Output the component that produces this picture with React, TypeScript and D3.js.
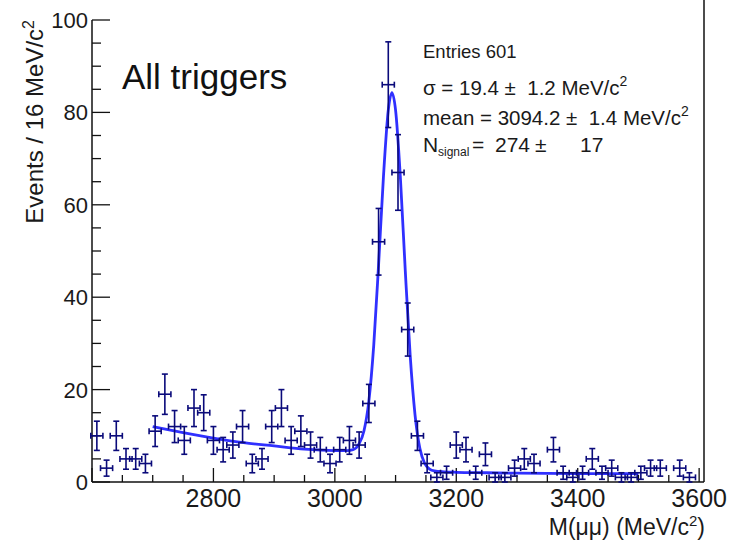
import React from 'react';
import * as d3 from 'd3';

// Histogram binning (MeV/c^2)
const binLow = 2600;
const binWidth = 16;
// Events per 16 MeV/c^2 bin (63 bins, 2600..3608)
const counts = [
  10, 3, 10, 5, 5, 4, 11, 19, 12, 9,
  16, 15, 9, 7, 8, 12, 4, 5, 12, 16,
  9, 11, 8, 7, 4, 7, 9, 8, 17, 52,
  86, 67, 33, 10, 4, 1, 2, 8, 7, 2,
  6, 1, 1, 3, 5, 4, 0, 7, 2, 1,
  2, 5, 2, 3, 1, 1, 2, 3, 3, 0,
  3, 1, 0,
];

// Fit curve (Gaussian signal + background)
const fitMass = [2700, 2750, 2800, 2850, 2900, 2950, 3000, 3020, 3030, 3040, 3048, 3056, 3064, 3072, 3080, 3088, 3094, 3100, 3108, 3116, 3124, 3132, 3140, 3148, 3156, 3164, 3180, 3200, 3250, 3300, 3400, 3500];
const fitValue = [12.0, 10.7, 9.5, 8.5, 7.8, 7.1, 6.8, 6.8, 7.0, 8.3, 11.1, 17.5, 29.5, 47, 66, 80.5, 84.3, 80.5, 65.7, 45.7, 27.5, 14.6, 7.3, 4.0, 2.8, 2.4, 2.2, 2.1, 2.0, 1.9, 1.8, 1.8];

const xTickLabels = [2800, 3000, 3200, 3400, 3600];
const yTickLabels = [0, 20, 40, 60, 80, 100];

const FONT = "'Liberation Sans', Arial, Helvetica, sans-serif";
const TEXT = '#1a1a1a';
const PT = '#0a0a7a';
const FIT = '#0c0cff';

export default function App() {
  const W = 729, H = 542;
  const left = 92, right = 704, top = 20, bottom = 482;
  const x = d3.scaleLinear().domain([binLow, binLow + binWidth * counts.length]).range([left, right]);
  const y = d3.scaleLinear().domain([0, 100]).range([bottom, top]);

  const line = d3.line<[number, number]>()
    .x(d => x(d[0]))
    .y(d => y(d[1]))
    .curve(d3.curveMonotoneX);
  const fitPts: [number, number][] = fitMass.map((m, i) => [m, fitValue[i]]);

  const xTicks = d3.range(2600, 3601, 50);
  const yTicks = d3.range(0, 101, 5);
  const pre = { whiteSpace: 'pre' as const };

  return (
    <svg width={W} height={H} style={{ position: 'absolute', left: 0, top: 0, background: '#fff' }}
      fontFamily={FONT}>
      {/* frame / axes */}
      <line x1={left} y1={top} x2={left} y2={bottom} stroke="#111" strokeWidth={1.5} />
      <line x1={left} y1={bottom} x2={right} y2={bottom} stroke="#111" strokeWidth={1.5} />
      <line x1={right} y1={0} x2={right} y2={bottom} stroke="#111" strokeWidth={1.5} />

      {/* y ticks */}
      {yTicks.map(v => (
        <line key={'yt' + v} x1={left} x2={left + (v % 20 === 0 ? 18 : 9)} y1={y(v)} y2={y(v)} stroke="#111" strokeWidth={1.3} />
      ))}
      {yTickLabels.map(v => (
        <text key={'yl' + v} x={88} y={y(v) + 8} textAnchor="end" fontSize={22} fill={TEXT}>{v}</text>
      ))}

      {/* x ticks */}
      {xTicks.map(v => (
        <line key={'xt' + v} x1={x(v)} x2={x(v)} y1={bottom} y2={bottom - (v % 200 === 0 ? 14 : 7)} stroke="#111" strokeWidth={1.3} />
      ))}
      {xTickLabels.map(v => (
        <text key={'xl' + v} x={x(v)} y={507} textAnchor="middle" fontSize={25} fill={TEXT}>{v}</text>
      ))}

      {/* axis titles */}
      <text x={705} y={535} textAnchor="end" fontSize={23} fill={TEXT}>
        M(μμ) (MeV/c<tspan dy={-9} fontSize={15}>2</tspan><tspan dy={9}>)</tspan>
      </text>
      <text transform="translate(43,20) rotate(-90)" textAnchor="end" fontSize={24} fill={TEXT}>
        Events / 16 MeV/c<tspan dy={-9} fontSize={16}>2</tspan>
      </text>

      {/* label */}
      <text x={122} y={89} fontSize={35} fill="#111">All triggers</text>

      {/* stats */}
      <g fill={TEXT}>
        <text x={423} y={58} fontSize={18.5}>Entries 601</text>
        <text x={423} y={95} fontSize={20.5} style={pre}>
          {'σ = 19.4 ±  1.2 MeV/c'}<tspan dy={-9} fontSize={14}>2</tspan>
        </text>
        <text x={423} y={125} fontSize={20.5} style={pre}>
          {'mean = 3094.2 ±  1.4 MeV/c'}<tspan dy={-9} fontSize={14}>2</tspan>
        </text>
        <text y={152} fontSize={21}>
          <tspan x={423}>N</tspan><tspan x={438} dy={4} fontSize={12}>signal</tspan>
          <tspan x={472} dy={-4}>=</tspan><tspan x={495}>274</tspan>
          <tspan x={535}>±</tspan><tspan x={580}>17</tspan>
        </text>
      </g>

      {/* fit curve */}
      <path d={line(fitPts) || ''} fill="none" stroke={FIT} strokeWidth={2.8} strokeOpacity={0.85} strokeLinejoin="round" />

      {/* data points with error bars */}
      <g stroke={PT} strokeWidth={1.6} fill="none">
        {counts.map((c, i) => {
          if (c <= 0) return null;
          const m = binLow + binWidth * (i + 0.5);
          const cx = x(m);
          const cy = y(c);
          const e = Math.sqrt(c);
          const yt = y(c + e), yb = y(c - e);
          const xl = x(m - binWidth / 2) - 1.2, xr = x(m + binWidth / 2) + 1.2;
          return (
            <g key={i}>
              <line x1={cx} x2={cx} y1={yt} y2={yb} />
              <line x1={cx - 3} x2={cx + 3} y1={yt} y2={yt} />
              <line x1={cx - 3} x2={cx + 3} y1={yb} y2={yb} />
              <line x1={xl} x2={xr} y1={cy} y2={cy} />
              <line x1={xl} x2={xl} y1={cy - 3} y2={cy + 3} />
              <line x1={xr} x2={xr} y1={cy - 3} y2={cy + 3} />
            </g>
          );
        })}
      </g>
    </svg>
  );
}
